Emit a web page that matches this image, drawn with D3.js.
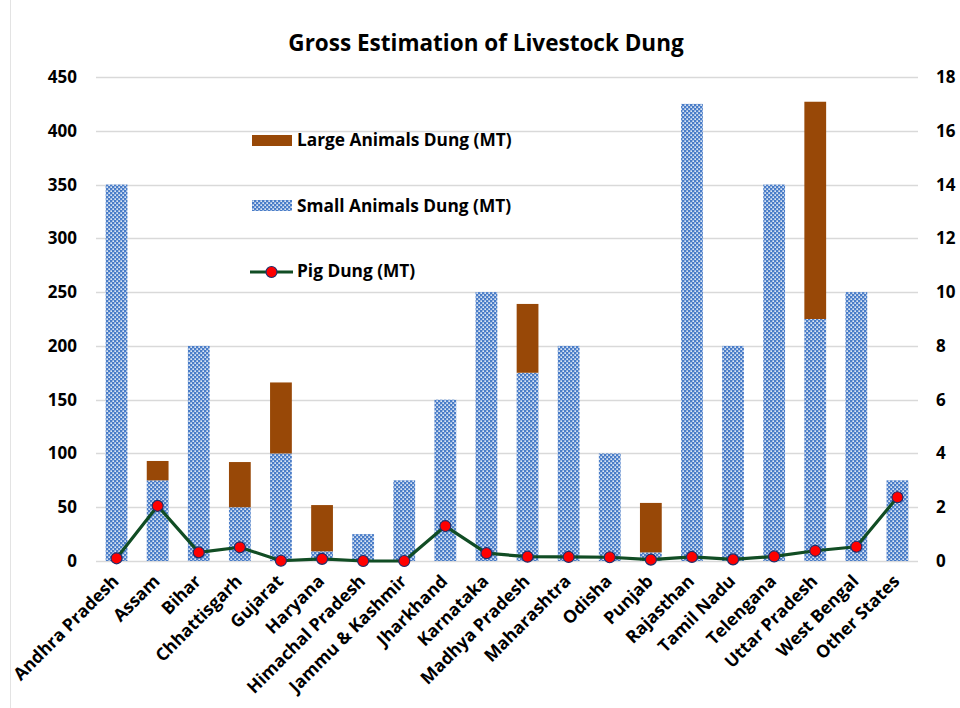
<!DOCTYPE html>
<html>
<head>
<meta charset="utf-8">
<script src="https://cdn.jsdelivr.net/npm/d3@7"></script>
<style>
  html, body { margin: 0; padding: 0; background: #fff; }
  svg text { font-family: "Open Sans", Lato, sans-serif; font-weight: 700; fill: #000; }
</style>
</head>
<body>
<svg id="chart" width="960" height="708"></svg>
<script>
// State-wise livestock dung estimates
const states = ["Andhra Pradesh", "Assam", "Bihar", "Chhattisgarh", "Gujarat", "Haryana",
  "Himachal Pradesh", "Jammu & Kashmir", "Jharkhand", "Karnataka", "Madhya Pradesh",
  "Maharashtra", "Odisha", "Punjab", "Rajasthan", "Tamil Nadu", "Telengana",
  "Uttar Pradesh", "West Bengal", "Other States"];
const smallAnimals = [350, 75, 200, 50, 100, 9, 25, 75, 150, 250, 175, 200, 100, 8, 425, 200, 350, 225, 250, 75];
const largeAnimals = [0, 18, 0, 42, 66, 43, 0, 0, 0, 0, 64, 0, 0, 46, 0, 0, 0, 202, 0, 0];
const pigDung = [0.1, 2.05, 0.32, 0.51, 0.01, 0.08, 0.0, 0.0, 1.3, 0.29, 0.16, 0.15, 0.14, 0.05, 0.15, 0.06, 0.17, 0.38, 0.53, 2.37];
const leftTicks = [0, 50, 100, 150, 200, 250, 300, 350, 400, 450];
const rightTicks = [0, 2, 4, 6, 8, 10, 12, 14, 16, 18];
const seriesNames = ["Large Animals Dung (MT)", "Small Animals Dung (MT)", "Pig Dung (MT)"];

const svg = d3.select("#chart");
const plot = { left: 96, right: 918, top: 77, bottom: 561 };

const x = d3.scaleBand().domain(states).range([plot.left, plot.right])
  .paddingInner(0.47).paddingOuter(0.235);
const yL = d3.scaleLinear().domain([0, 450]).range([plot.bottom, plot.top]);
const yR = d3.scaleLinear().domain([0, 18]).range([plot.bottom, plot.top]);

const BROWN = "#984807";
const BLUE = "#4a7dc8";
const GREEN = "#114d24";

// chart frame edge
svg.append("line").attr("x1", 10.5).attr("x2", 10.5).attr("y1", 0).attr("y2", 708)
  .attr("stroke", "#e3e3e3").attr("stroke-width", 1);

// dotted fill for the small-animal bars
const defs = svg.append("defs");
const pat = defs.append("pattern").attr("id", "dots")
  .attr("width", 4).attr("height", 4).attr("patternUnits", "userSpaceOnUse");
pat.append("rect").attr("width", 4).attr("height", 4).attr("fill", BLUE);
pat.append("rect").attr("x", 0.4).attr("y", 0.4).attr("width", 1.5).attr("height", 1.5).attr("fill", "#fff");
pat.append("rect").attr("x", 2.4).attr("y", 2.4).attr("width", 1.5).attr("height", 1.5).attr("fill", "#fff");

// title
svg.append("text").attr("x", 486).attr("y", 51).attr("text-anchor", "middle")
  .style("font-size", "22.5px").text("Gross Estimation of Livestock Dung");

// gridlines
svg.append("g").selectAll("line").data(leftTicks).join("line")
  .attr("x1", plot.left).attr("x2", plot.right)
  .attr("y1", d => Math.round(yL(d)) + 0.5).attr("y2", d => Math.round(yL(d)) + 0.5)
  .attr("stroke", "#d9d9d9").attr("stroke-width", 1.3);

// left axis
const axL = svg.append("g").attr("transform", `translate(${plot.left},0)`)
  .call(d3.axisLeft(yL).tickValues(leftTicks).tickSize(0).tickPadding(19));
axL.select(".domain").remove();
axL.selectAll("text").style("font-size", "17px").style("font-family", "'Open Sans', sans-serif").attr("fill", "#000");

// right axis
const axR = svg.append("g").attr("transform", `translate(${plot.right},0)`)
  .call(d3.axisRight(yR).tickValues(rightTicks).tickSize(0).tickPadding(18));
axR.select(".domain").remove();
axR.selectAll("text").style("font-size", "17px").style("font-family", "'Open Sans', sans-serif").attr("fill", "#000");

// stacked bars
const bars = svg.append("g");
bars.selectAll("rect.small").data(states).join("rect").attr("class", "small")
  .attr("x", d => x(d)).attr("width", x.bandwidth())
  .attr("y", (d, i) => yL(smallAnimals[i]))
  .attr("height", (d, i) => yL(0) - yL(smallAnimals[i]))
  .attr("fill", "url(#dots)");
bars.selectAll("rect.large").data(states.filter((d, i) => largeAnimals[i] > 0)).join("rect").attr("class", "large")
  .attr("x", d => x(d)).attr("width", x.bandwidth())
  .attr("y", d => { const i = states.indexOf(d); return yL(smallAnimals[i] + largeAnimals[i]); })
  .attr("height", d => { const i = states.indexOf(d); return yL(smallAnimals[i]) - yL(smallAnimals[i] + largeAnimals[i]); })
  .attr("fill", BROWN);

// pig dung line on the secondary axis
const line = d3.line().x((d, i) => x(states[i]) + x.bandwidth() / 2).y(d => yR(d));
svg.append("path").datum(pigDung).attr("d", line)
  .attr("fill", "none").attr("stroke", GREEN).attr("stroke-width", 3.2).attr("stroke-linejoin", "round");
svg.append("g").selectAll("circle").data(pigDung).join("circle")
  .attr("cx", (d, i) => x(states[i]) + x.bandwidth() / 2).attr("cy", d => yR(d))
  .attr("r", 5.5).attr("fill", "#ff0000").attr("stroke", "#1f2f6b").attr("stroke-width", 1.2);

// category labels
svg.append("g").selectAll("text").data(states).join("text")
  .attr("transform", d => `translate(${x(d) + x.bandwidth() / 2 - 1},${plot.bottom + 17}) rotate(-45)`)
  .attr("text-anchor", "end").attr("dy", "0.35em")
  .style("font-size", "17.5px").text(d => d);

// legend
const leg = svg.append("g");
leg.append("rect").attr("x", 252).attr("y", 135).attr("width", 40).attr("height", 11).attr("fill", BROWN);
leg.append("rect").attr("x", 252).attr("y", 200).attr("width", 40).attr("height", 11).attr("fill", "url(#dots)");
leg.append("line").attr("x1", 250).attr("x2", 293).attr("y1", 272).attr("y2", 272)
  .attr("stroke", GREEN).attr("stroke-width", 3.2);
leg.append("circle").attr("cx", 271.5).attr("cy", 272).attr("r", 5.5)
  .attr("fill", "#ff0000").attr("stroke", "#1f2f6b").attr("stroke-width", 1.2);
leg.selectAll("text").data(seriesNames).join("text")
  .attr("x", 297).attr("y", (d, i) => [140, 206, 271][i]).attr("dy", "0.36em")
  .style("font-size", "17.3px").text(d => d);
</script>
</body>
</html>
